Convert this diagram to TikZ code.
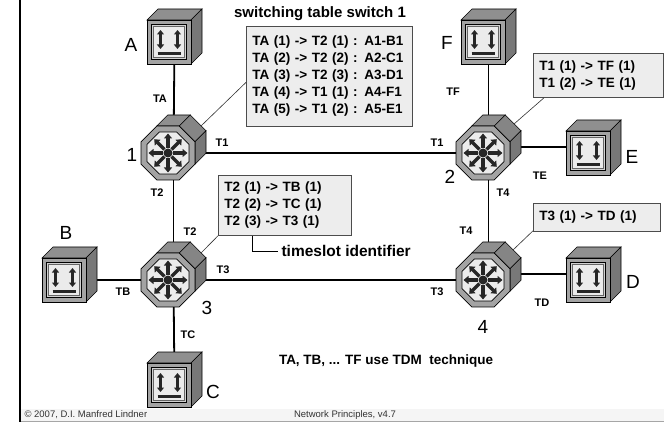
\documentclass[tikz,border=0pt]{standalone}
\usepackage{fontspec}
\setmainfont{Liberation Sans}
\usetikzlibrary{calc, arrows.meta, positioning}

\definecolor{facefront}{gray}{0.64}
\definecolor{facetop}{gray}{0.56}
\definecolor{faceside}{gray}{0.47}
\definecolor{screen}{gray}{0.92}
\definecolor{tablefill}{gray}{0.93}

\tikzset{
link/.style={line width=1.8pt}, % lines between switches and stations
pointer/.style={line width=0.6pt, black!80}, % thin lines from the tables
table/.style={draw=black!70, fill=tablefill, line width=0.8pt, anchor=north west,
              align=left, inner xsep=6pt, font=\bfseries\fontsize{13.5}{17}\selectfont},
port/.style={font=\bfseries\fontsize{11}{13}\selectfont}, % trunk names
devname/.style={font=\fontsize{19}{21}\selectfont}, % A..F, 1..4
dirarrow/.style={line width=3pt, black!85, {Triangle[width=7pt,length=4.5pt]}-{Triangle[width=7pt,length=4.5pt]}},
terminal/.pic={
    \filldraw[fill=facetop, line width=0.6pt] (-22,-22) -- (-11,-33) -- (33,-33) -- (22,-22) -- cycle;
    \filldraw[fill=faceside, line width=0.6pt] (22,-22) -- (33,-33) -- (33,11) -- (22,22) -- cycle;
    \filldraw[fill=facefront, line width=0.6pt] (-22,-22) rectangle (22,22);
    \filldraw[fill=black!18, line width=0.7pt] (-17.5,-17.5) rectangle (17.5,17.5);
    \filldraw[fill=screen, draw=black!60, line width=0.3pt] (-15.5,-15.5) rectangle (15.5,15.5);
    \draw[dirarrow] (-8.5,-12) -- (-8.5,7);
    \draw[dirarrow] (8.5,-12) -- (8.5,7);
    \draw[line width=3.5pt, black!85] (-11.5,11.5) -- (11.5,11.5);
},
switch/.pic={
    % visible faces of the extruded octagon
    \filldraw[fill=facetop, line width=0.6pt] (-11.2,-27) -- (11.2,-27) -- (22.2,-38) -- (-0.2,-38) -- cycle;
    \filldraw[fill=faceside!90, line width=0.6pt] (11.2,-27) -- (27,-11.2) -- (38,-22.2) -- (22.2,-38) -- cycle;
    \filldraw[fill=faceside, line width=0.6pt] (27,-11.2) -- (27,11.2) -- (38,0.2) -- (38,-22.2) -- cycle;
    \filldraw[fill=facefront, line width=0.6pt] (22.5:29.2)
        \foreach \a in {67.5,112.5,...,337.5} { -- (\a:29.2) } -- cycle;
    \filldraw[fill=screen, line width=0.6pt] (22.5:22.7)
        \foreach \a in {67.5,112.5,...,337.5} { -- (\a:22.7) } -- cycle;
    \foreach \a in {0,45,...,315}
        \draw[line width=3.2pt, black!85, -{Triangle[width=8pt,length=5pt]}] (\a:5) -- (\a:19.5);
    \fill[black!85] (0,0) circle (4.5);
},
}

\begin{document}
\begin{tikzpicture}[x=1pt, y=-1pt]
\useasboundingbox (0,0) rectangle (664,422);

% slide frame and footer
\fill[black!4] (21,409) rectangle (664,421);
\draw[black!35, line width=0.8pt] (21,421) -- (664,421);
\draw[line width=1.6pt] (20,0) -- (20,422);

% switches and stations
\node[coordinate] (s1) at (168,153) {};
\node[coordinate] (s2) at (483,153) {};
\node[coordinate] (s3) at (168,280) {};
\node[coordinate] (s4) at (483,280) {};
\node[coordinate] (tA) at (169,42) {};
\node[coordinate] (tF) at (483,42) {};
\node[coordinate] (tE) at (588,153) {};
\node[coordinate] (tB) at (64,280) {};
\node[coordinate] (tC) at (169,385) {};
\node[coordinate] (tD) at (588,280) {};

% trunks
\draw[link] ($(tA)+(5.5,0)$) -- ($(s1)+(5.5,0)$);
\draw[link] (s1) -- (s2);
\draw[link] ($(s1)+(5.5,0)$) -- ($(s3)+(5.5,0)$);
\draw[link] ($(tF)+(5.5,0)$) -- ($(s2)+(5.5,0)$);
\draw[link] ($(s2)+(0,-6)$) -- ($(tE)+(0,-6)$);
\draw[link] ($(s2)+(5.5,0)$) -- ($(s4)+(5.5,0)$);
\draw[link] (tB) -- (s3);
\draw[link] (s3) -- (s4);
\draw[link] ($(s3)+(5.5,0)$) -- ($(tC)+(5.5,0)$);
\draw[link] ($(s4)+(0,-6)$) -- ($(tD)+(0,-6)$);

\foreach \s in {s1,s2,s3,s4}
    \pic at (\s) {switch};
\foreach \t in {tA,tF,tE,tB,tC,tD}
    \pic at (\t) {terminal};

% names
\node[devname] (nA) at (131,45) {A};
\node[devname] (nF) at (447,43) {F};
\node[devname] (nE) at (632,157) {E};
\node[devname] (nB) at (66,233) {B};
\node[devname] (nC) at (213,392) {C};
\node[devname] (nD) at (633,282) {D};
\node[devname] (n1) at (132,155) {1};
\node[devname] (n2) at (450,177) {2};
\node[devname] (n3) at (207,308) {3};
\node[devname] (n4) at (483,327) {4};

% trunk labels
\node[port] (pTA) at (160,99) {TA};
\node[port] (pT1a) at (222,143) {T1};
\node[port] (pT2a) at (157,193) {T2};
\node[port] (pT1b) at (437,143) {T1};
\node[port] (pTF) at (453,92) {TF};
\node[port] (pTE) at (540,176) {TE};
\node[port] (pT4a) at (503,193) {T4};
\node[port] (pT2b) at (190,232) {T2};
\node[port] (pT3a) at (223,270) {T3};
\node[port] (pTB) at (123,292) {TB};
\node[port] (pTC) at (188,335) {TC};
\node[port] (pT4b) at (466,231) {T4};
\node[port] (pT3b) at (437,292) {T3};
\node[port] (pTD) at (542,303) {TD};

% switching tables
\node[font=\bfseries\fontsize{15}{18}\selectfont] (title) at (320,14) {switching table switch 1};
\node[table, text width=154pt, minimum height=100pt] (tab1) at (246,26)
    {TA (1) -> T2 (1) : A1-B1\\TA (2) -> T2 (2) : A2-C1\\TA (3) -> T2 (3) : A3-D1\\TA (4) -> T1 (1) : A4-F1\\TA (5) -> T1 (2) : A5-E1};
\node[table, text width=118pt, minimum height=44pt] (tab2) at (533,53)
    {T1 (1) -> TF (1)\\T1 (2) -> TE (1)};
\node[table, text width=121pt, minimum height=60pt] (tab3) at (218,175)
    {T2 (1) -> TB (1)\\T2 (2) -> TC (1)\\T2 (3) -> T3 (1)};
\node[table, text width=115pt, minimum height=28pt] (tab4) at (533,203)
    {T3 (1) -> TD (1)};

\draw[pointer] ([yshift=-6pt]tab1.west) -- ($(s1)+(33,-27)$);
\draw[pointer] ([xshift=11pt]tab2.south west) -- ($(s2)+(31,-29)$);
\draw[pointer] (tab3.south west) -- ($(s3)+(33,-27)$);
\draw[pointer] ([yshift=1pt]tab4.south west) -- ($(s4)+(30,-30)$);

\node[anchor=west, font=\bfseries\fontsize{15.5}{18}\selectfont] (slot) at (278,251) {timeslot identifier};
\draw[line width=0.8pt] ([xshift=34pt]tab3.south west) |- (slot.west);

\node[font=\bfseries\fontsize{13.5}{16}\selectfont] (note) at (386,361) {TA, TB, ... TF use TDM\ \ technique};

% footer
\node[anchor=west, black!80, font=\fontsize{9.5}{11}\selectfont] (copy) at (21,415) {\textcopyright{} 2007, D.I. Manfred Lindner};
\node[black!80, font=\fontsize{9.5}{11}\selectfont] (course) at (345,415) {Network Principles, v4.7};
\end{tikzpicture}
\end{document}
